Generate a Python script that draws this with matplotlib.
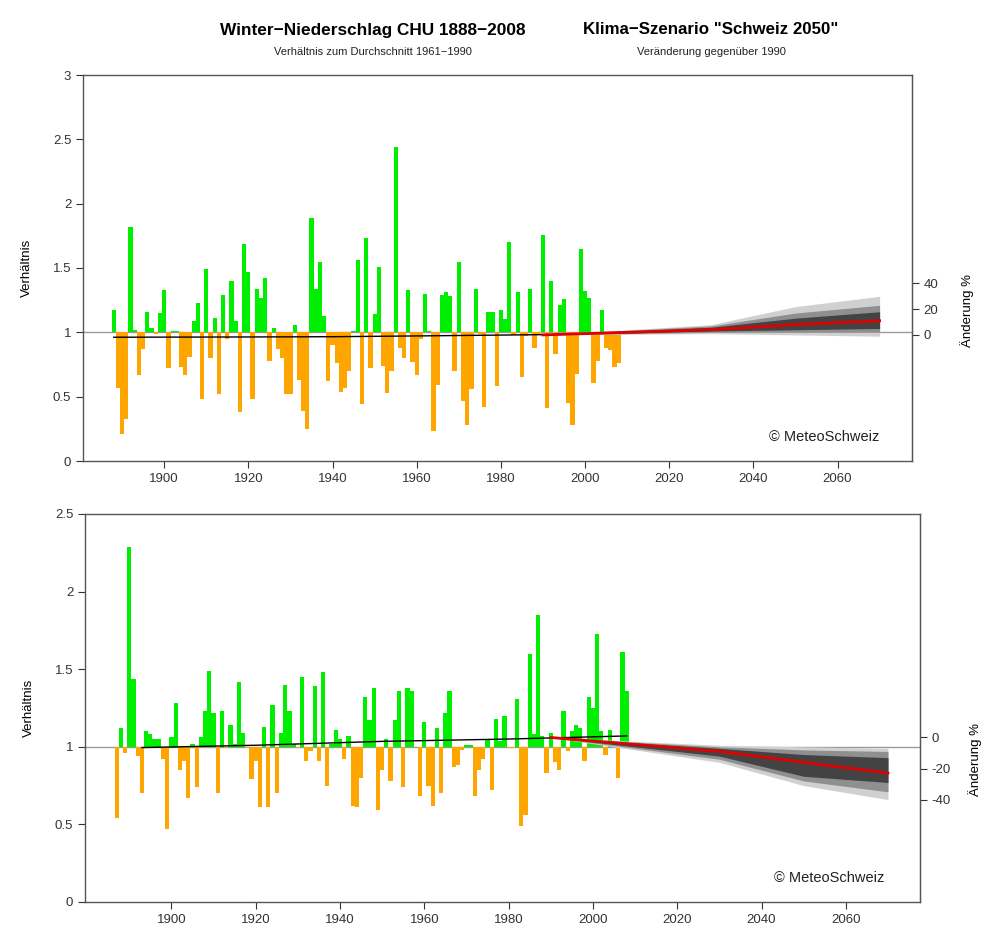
import numpy as np
import matplotlib.pyplot as plt

plt.rcParams['font.family'] = ['Liberation Sans', 'DejaVu Sans']

# --- Panel 1: winter precipitation ratio, 1888-2008 ---
years_top = list(range(1888, 2009))
ratio_top = [
    1.17, 0.57, 0.21, 0.33, 1.82, 1.02, 0.67, 0.87, 1.16, 1.03, 0.99, 1.15,  # 1888-1899
    1.33, 0.72, 1.01, 1.01, 0.73, 0.67, 0.81, 1.09, 1.23, 0.48,              # 1900-1909
    1.49, 0.80, 1.11, 0.52, 1.29, 0.95, 1.40, 1.09, 0.38, 1.69,              # 1910-1919
    1.47, 0.48, 1.34, 1.27, 1.42, 0.78, 1.03, 0.87, 0.80, 0.52,              # 1920-1929
    0.52, 1.06, 0.63, 0.39, 0.25, 1.89, 1.34, 1.55, 1.13, 0.62,              # 1930-1939
    0.90, 0.76, 0.54, 0.57, 0.70, 1.01, 1.56, 0.44, 1.73, 0.72,              # 1940-1949
    1.14, 1.51, 0.74, 0.53, 0.70, 2.44, 0.88, 0.80, 1.33, 0.77,              # 1950-1959
    0.67, 0.95, 1.30, 1.01, 0.23, 0.59, 1.29, 1.31, 1.28, 0.70,              # 1960-1969
    1.55, 0.47, 0.28, 0.56, 1.34, 0.99, 0.42, 1.16, 1.16, 0.58,              # 1970-1979
    1.17, 1.10, 1.70, 0.98, 1.31, 0.65, 0.97, 1.34, 0.88, 0.98,              # 1980-1989
    1.76, 0.41, 1.40, 0.83, 1.21, 1.26, 0.45, 0.28, 0.68, 1.65,              # 1990-1999
    1.32, 1.27, 0.61, 0.78, 1.17, 0.88, 0.86, 0.73, 0.76,                    # 2000-2008
]
trend_years_top = [1888, 1920, 1940, 1960, 1990]
trend_top = [0.962, 0.964, 0.966, 0.972, 0.982]

# --- Panel 2: second series, 1887-2008 ---
years_bot = list(range(1887, 2009))
ratio_bot = [
    0.54, 1.12, 0.96, 2.29, 1.44, 0.94, 0.70, 1.10, 1.08, 1.05, 1.05, 0.92, 0.47,  # 1887-1899
    1.06, 1.28, 0.85, 0.91, 0.67, 1.02, 0.74, 1.06, 1.23, 1.49,                    # 1900-1909
    1.22, 0.70, 1.23, 0.99, 1.14, 1.02, 1.42, 1.09, 0.99, 0.79,                    # 1910-1919
    0.91, 0.61, 1.13, 0.61, 1.27, 0.70, 1.09, 1.40, 1.23, 1.02,                    # 1920-1929
    0.99, 1.45, 0.91, 0.97, 1.39, 0.91, 1.48, 0.75, 1.02, 1.11,                    # 1930-1939
    1.05, 0.92, 1.07, 0.62, 0.61, 0.80, 1.32, 1.17, 1.38, 0.59,                    # 1940-1949
    0.85, 1.05, 0.78, 1.17, 1.36, 0.74, 1.38, 1.36, 1.00, 0.68,                    # 1950-1959
    1.16, 0.75, 0.62, 1.12, 0.70, 1.22, 1.36, 0.87, 0.88, 0.98,                    # 1960-1969
    1.01, 1.01, 0.68, 0.85, 0.92, 1.05, 0.72, 1.18, 1.04, 1.20,                    # 1970-1979
    0.99, 0.99, 1.31, 0.49, 0.56, 1.60, 1.08, 1.85, 1.07, 0.83,                    # 1980-1989
    1.09, 0.90, 0.85, 1.23, 0.97, 1.10, 1.14, 1.12, 0.91, 1.32,                    # 1990-1999
    1.25, 1.73, 1.10, 0.95, 1.11, 1.00, 0.80, 1.61, 1.36,                          # 2000-2008
]
trend_years_bot = [1893, 1920, 1950, 1980, 2008]
trend_bot = [0.995, 1.01, 1.035, 1.05, 1.07]

# --- Scenario "Schweiz 2050": change in % relative to 1990 ---
scen_years = [1990, 2030, 2050, 2070]
top_base = 0.98
top_med = [0, 4, 8, 11]
top_light = ([0, 1, 0, -1], [0, 8, 22, 30])
top_mid = ([0, 2, 2, 2], [0, 7, 17, 23])
top_dark = ([0, 3, 4, 5], [0, 6, 13, 18])

bot_base = 1.06
bot_med = [0, -9, -16, -23]
bot_light = ([0, -16, -31, -40], [0, -5, -6, -7])
bot_mid = ([0, -14, -28, -35], [0, -6, -8, -9])
bot_dark = ([0, -12, -25, -29], [0, -7, -11, -13])

GREEN = '#00ee00'
ORANGE = '#ffa500'
AXCOL = '#555555'


def draw_panel(ax, years, ratio, tyears, tvals, base, med, light, mid, dark,
               ylim, yticks, pct_ticks, xlim, right_label_y, copy_x):
    years = np.array(years)
    ratio = np.array(ratio)
    colors = [GREEN if r >= 1 else ORANGE for r in ratio]

    ax.axhline(1, color='#999999', lw=1, zorder=1)
    ax.bar(years, ratio - 1, bottom=1, width=1.0, color=colors,
           linewidth=0, zorder=2)
    ax.plot(tyears, tvals, color='black', lw=1, zorder=3)

    sy = np.array(scen_years)
    to_val = lambda p: base + np.array(p) / 100.0
    for (lo, hi), col in zip([light, mid, dark], ['#d0d0d0', '#8f8f8f', '#434343']):
        ax.fill_between(sy, to_val(lo), to_val(hi), color=col, lw=0, zorder=3)
    ax.plot(sy, to_val(med), color='#e00000', lw=2, zorder=4)

    ax.set_xlim(*xlim)
    ax.set_ylim(*ylim)
    ax.set_xticks([1900, 1920, 1940, 1960, 1980, 2000, 2020, 2040, 2060])
    ax.set_yticks(yticks)
    ax.set_yticklabels([('%g' % t) for t in yticks])
    ax.set_ylabel('Verhältnis', fontsize=9.5, labelpad=14)
    ax.tick_params(colors='#333333', labelsize=9.5, length=5, width=0.8)
    for s in ax.spines.values():
        s.set_color(AXCOL)
        s.set_linewidth(1)

    sec = ax.secondary_yaxis('right', functions=(lambda v: (v - base) * 100,
                                                 lambda p: base + p / 100))
    sec.set_yticks(pct_ticks)
    sec.set_yticklabels([str(t) for t in pct_ticks])
    sec.tick_params(colors='#333333', labelsize=9.5, length=5, width=0.8)
    sec.spines['right'].set_color(AXCOL)
    ax.text(1.066, right_label_y, 'Änderung %', transform=ax.transAxes,
            rotation=90, ha='center', va='center', fontsize=9.5)

    ax.text(copy_x, 0.045, '© MeteoSchweiz', transform=ax.transAxes,
            ha='right', va='bottom', fontsize=10.5, color='#222222')


def main():
    fig = plt.figure(figsize=(9.89, 9.36), dpi=100)
    W, H = 989, 936
    ax1 = fig.add_axes([83 / W, 1 - 461 / H, (912 - 83) / W, (461 - 75) / H])
    ax2 = fig.add_axes([85 / W, 1 - 902 / H, (920 - 85) / W, (902 - 514) / H])

    draw_panel(ax1, years_top, ratio_top, trend_years_top, trend_top,
               top_base, top_med, top_light, top_mid, top_dark,
               (0, 3), [0, 0.5, 1, 1.5, 2, 2.5, 3], [0, 20, 40], (1880.7, 2077.7),
               0.39, 0.961)
    draw_panel(ax2, years_bot, ratio_bot, trend_years_bot, trend_bot,
               bot_base, bot_med, bot_light, bot_mid, bot_dark,
               (0, 2.5), [0, 0.5, 1, 1.5, 2, 2.5], [0, -20, -40], (1879.5, 2077.6),
               0.366, 0.957)

    fig.text(373 / W, 1 - 30 / H, 'Winter−Niederschlag CHU 1888−2008',
             ha='center', va='center', fontsize=12.4, fontweight='bold')
    fig.text(373 / W, 1 - 52 / H, 'Verhältnis zum Durchschnitt 1961−1990',
             ha='center', va='center', fontsize=8, color='#222222')
    fig.text(711 / W, 1 - 30 / H, 'Klima−Szenario "Schweiz 2050"',
             ha='center', va='center', fontsize=12.2, fontweight='bold')
    fig.text(711 / W, 1 - 52 / H, 'Veränderung gegenüber 1990',
             ha='center', va='center', fontsize=8, color='#222222')

    fig.savefig('out.png', dpi=100)


if __name__ == "__main__":
    main()
